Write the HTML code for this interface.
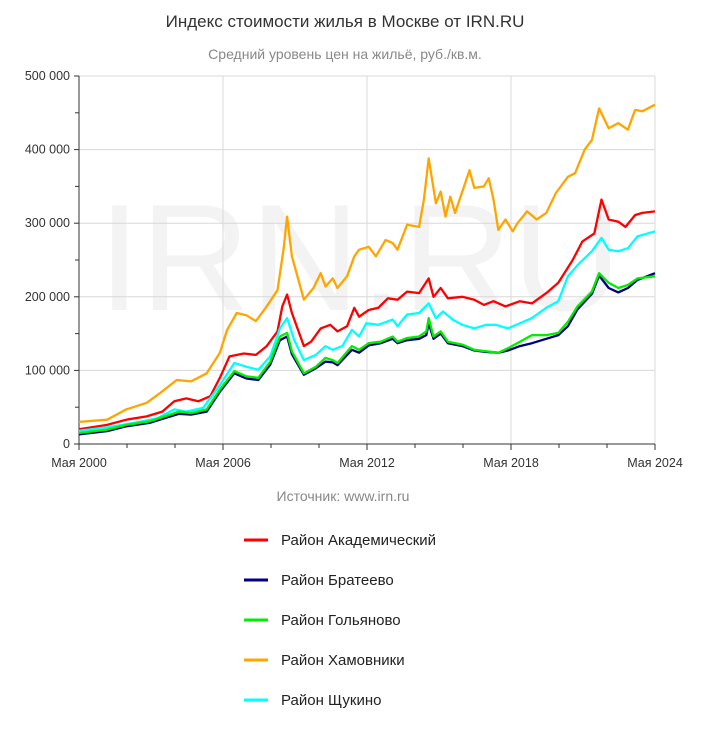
<!DOCTYPE html>
<html><head><meta charset="utf-8">
<style>
body{margin:0;background:#fff;width:709px;height:733px;overflow:hidden;font-family:"Liberation Sans","DejaVu Sans",sans-serif}
</style></head>
<body>
<svg id="chart" width="709" height="733" xmlns="http://www.w3.org/2000/svg" font-family="Liberation Sans, DejaVu Sans, sans-serif">
<text x="345" y="27" text-anchor="middle" font-size="17" fill="#333">Индекс стоимости жилья в Москве от IRN.RU</text>
<text x="345" y="59" text-anchor="middle" font-size="14" fill="#888">Средний уровень цен на жильё, руб./кв.м.</text>
<text x="360" y="310" text-anchor="middle" font-size="152" fill="#f3f3f3">IRN.RU</text>
<g id="grid"></g>
<g id="axes"></g>
<g id="series"></g>
<text x="343" y="501" text-anchor="middle" font-size="14" fill="#888">Источник: www.irn.ru</text>
<g id="legend"></g>
</svg>
<script>
const yTicks=[0,100000,200000,300000,400000,500000];
const yTickLabels=["0","100 000","200 000","300 000","400 000","500 000"];
const xTicks=[2000.33,2006.33,2012.33,2018.33,2024.33];
const xTickLabels=["Мая 2000","Мая 2006","Мая 2012","Мая 2018","Мая 2024"];
const names=["Район Академический","Район Братеево","Район Гольяново","Район Хамовники","Район Щукино"];
const colors=["#ff0000","#000080","#00ee00","#ffa500","#00ffff"];
const hamYears=[2000.33,2001.5,2002.3,2003.15,2003.7,2004.4,2005.0,2005.65,2006.2,2006.5,2006.9,2007.3,2007.7,2008.15,2008.6,2008.85,2009.0,2009.2,2009.7,2010.1,2010.4,2010.6,2010.9,2011.1,2011.5,2011.8,2012.0,2012.4,2012.7,2013.1,2013.4,2013.6,2014.0,2014.5,2014.7,2014.9,2015.2,2015.4,2015.6,2015.8,2016.0,2016.3,2016.6,2016.8,2017.2,2017.4,2017.6,2017.8,2018.1,2018.4,2018.6,2019.0,2019.4,2019.8,2020.2,2020.7,2021.0,2021.4,2021.7,2022.0,2022.4,2022.8,2023.2,2023.5,2023.8,2024.33];
const hamValues=[30,33,47,56,69,87,85,96,124,155,178,175,167,187,209,264,309,255,196,212,232,214,225,212,228,255,264,268,255,277,273,264,298,295,332,388,327,343,309,336,314,343,372,348,350,361,332,291,305,289,300,316,305,314,341,363,368,400,413,456,429,436,427,454,452,461];
const akYears=[2000.33,2001.5,2002.3,2003.15,2003.8,2004.3,2004.8,2005.3,2005.8,2006.2,2006.6,2007.2,2007.7,2008.15,2008.6,2008.8,2009.0,2009.2,2009.7,2010.0,2010.4,2010.8,2011.1,2011.5,2011.8,2012.0,2012.4,2012.8,2013.2,2013.6,2014.0,2014.5,2014.9,2015.1,2015.4,2015.7,2016.3,2016.8,2017.2,2017.6,2018.1,2018.7,2019.2,2019.8,2020.3,2020.9,2021.3,2021.8,2022.1,2022.4,2022.8,2023.1,2023.5,2023.8,2024.33];
const akValues=[20,26,33,37.5,44,58,62,58,65,90,119,123,121,133,153,187,203,178,133,139,157,162,153,160,185,173,182,185,198,196,207,205,225,200,212,198,200,196,189,194,187,194,191,205,219,250,275,286,332,305,302,295,311,314,316];
const shYears=[2000.33,2001.5,2002.6,2003.6,2004.3,2004.8,2005.5,2006.2,2006.8,2007.3,2007.8,2008.3,2008.7,2009.0,2009.3,2009.7,2010.2,2010.6,2010.9,2011.3,2011.7,2012.0,2012.3,2012.8,2013.4,2013.6,2014.0,2014.5,2014.9,2015.2,2015.5,2015.9,2016.3,2016.8,2017.3,2017.7,2018.2,2018.7,2019.2,2019.8,2020.3,2020.7,2021.1,2021.7,2022.1,2022.4,2022.8,2023.2,2023.6,2024.33];
const shValues=[18,22.6,28.5,35,47,44,49,80,110,105,101,119,157,171,141,114,121,133,128,133,155,146,164,162,169,160,176,178,191,171,180,169,162,157,162,162,157,164,171,185,194,228,243,262,280,264,262,266,282,289];
const goYears=[2000.33,2001.5,2002.3,2003.3,2003.9,2004.5,2005.0,2005.65,2006.2,2006.8,2007.3,2007.8,2008.3,2008.7,2009.0,2009.2,2009.7,2010.2,2010.6,2010.9,2011.1,2011.7,2012.0,2012.4,2012.9,2013.4,2013.6,2014.0,2014.5,2014.8,2014.9,2015.1,2015.4,2015.7,2016.3,2016.8,2017.3,2017.8,2018.2,2018.7,2019.2,2019.8,2020.3,2020.7,2021.1,2021.7,2022.0,2022.4,2022.8,2023.2,2023.6,2024.33];
const goValues=[15,19.5,26,31,37.5,44,42,47,74,99,92,90,112,146,151,126,96,105,117,114,110,133,128,137,139,146,139,144,146,153,171,146,153,139,135,128,126,124,130,139,148,148,151,166,187,207,232,219,212,216,225,228];
const brYears=[2000.33,2001.5,2002.3,2003.3,2003.9,2004.5,2005.0,2005.65,2006.2,2006.8,2007.3,2007.8,2008.3,2008.7,2009.0,2009.2,2009.7,2010.2,2010.6,2010.9,2011.1,2011.7,2012.0,2012.4,2012.9,2013.4,2013.6,2014.0,2014.5,2014.8,2014.9,2015.1,2015.4,2015.7,2016.3,2016.8,2017.3,2017.8,2018.2,2018.7,2019.2,2019.8,2020.3,2020.7,2021.1,2021.7,2022.0,2022.4,2022.8,2023.2,2023.6,2024.33];
const brValues=[13,17.5,24,29,35,41,40,44,71,96,89,87,108,141,146,122,94,103,112,111,107,128,124,134,137,143,137,141,143,148,164,143,150,137,133,127,125,124,127,133,137,143,148,160,183,204,229,212,206,212,223,232];
const seriesYears=[akYears,brYears,goYears,hamYears,shYears];
const seriesValues=[akValues,brValues,goValues,hamValues,shValues];

const L=79,R=655,T=76,B=444;
const X=y=>L+(y-2000.33)/(24)*(R-L);
const Y=v=>B-v/500000*(B-T);
const NS="http://www.w3.org/2000/svg";
function mk(tag,attrs,parent,text){const e=document.createElementNS(NS,tag);for(const k in attrs)e.setAttribute(k,attrs[k]);if(text!==undefined)e.textContent=text;parent.appendChild(e);return e;}
const grid=document.getElementById('grid'),axes=document.getElementById('axes'),ser=document.getElementById('series'),leg=document.getElementById('legend');
yTicks.forEach((v,i)=>{
  if(v>0){const g=mk('line',{x1:L,x2:R,y1:Y(v),y2:Y(v),stroke:'#d8d8d8','stroke-width':1},grid);
  
  }
  const t=mk('line',{x1:L-5,x2:L,y1:Y(v),y2:Y(v),stroke:'#333'},axes);
  
  
  if(i<yTicks.length-1){const m=mk('line',{x1:L-4,x2:L,y1:Y(v+50000),y2:Y(v+50000),stroke:'#333'},axes);
  
  }
  const lb=mk('text',{x:L-9,y:Y(v)+4,'text-anchor':'end','font-size':12.5,fill:'#333'},axes,yTickLabels[i]);
  
  
});
xTicks.forEach((v,i)=>{
  if(i>0){const g=mk('line',{x1:X(v),x2:X(v),y1:T,y2:B,stroke:'#d8d8d8'},grid);
  
  }
  const t=mk('line',{x1:X(v),x2:X(v),y1:B,y2:B+6,stroke:'#333'},axes);
  
  
  if(i<xTicks.length-1){[2,4].forEach(d=>{const m=mk('line',{x1:X(v+d),x2:X(v+d),y1:B,y2:B+4,stroke:'#333'},axes);
  
  });}
  const lb=mk('text',{x:X(v),y:B+23,'text-anchor':'middle','font-size':12.5,fill:'#333'},axes,xTickLabels[i]);
  
  
});
const ax=mk('path',{d:`M${L},${T} V${B} H${R}`,fill:'none',stroke:'#333','stroke-width':1},axes);


const order=[3,0,4,1,2];
order.forEach(s=>{
  const d=seriesYears[s].map((y,i)=>(i?'L':'M')+X(y).toFixed(1)+','+Y(seriesValues[s][i]*1000).toFixed(1)).join(' ');
  const p=mk('path',{d:d,fill:'none',stroke:colors[s],'stroke-width':2.3,'stroke-linejoin':'round'},ser);
  
  
});
names.forEach((n,i)=>{
  const yy=540+i*40;
  const g=mk('g',{},leg);
  
  
  mk('line',{x1:244,x2:268,y1:yy,y2:yy,stroke:colors[i],'stroke-width':3},g);
  mk('text',{x:281,y:yy+5,'font-size':15,fill:'#222'},g,n);
});
</script>
</body></html>
